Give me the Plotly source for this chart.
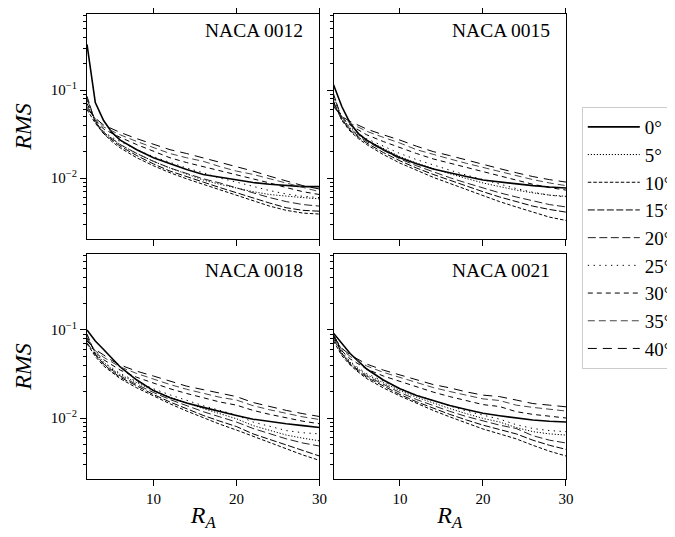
import plotly.graph_objects as go
from plotly.subplots import make_subplots

# Rayleigh-type number on x, RMS error on a log y axis
RA = [2, 3, 4, 5, 6, 8, 10, 12, 14, 16, 18, 20, 22, 24, 26, 28, 30]
ANGLES = [0, 5, 10, 15, 20, 25, 30, 35, 40]
PROFILES = ["NACA 0012", "NACA 0015", "NACA 0018", "NACA 0021"]

naca0012 = {
    0: [0.33, 0.072, 0.045, 0.033, 0.027, 0.021, 0.017, 0.0145, 0.0125, 0.011, 0.0102, 0.0095, 0.0089, 0.0085, 0.0082, 0.0080, 0.0080],
    5: [0.070, 0.044, 0.033, 0.028, 0.024, 0.019, 0.0155, 0.013, 0.011, 0.0095, 0.0085, 0.0077, 0.0070, 0.0065, 0.0062, 0.0060, 0.0058],
    10: [0.060, 0.042, 0.032, 0.026, 0.022, 0.017, 0.0138, 0.0115, 0.0098, 0.0085, 0.0074, 0.0063, 0.0055, 0.0048, 0.0043, 0.0040, 0.0039],
    15: [0.085, 0.043, 0.032, 0.027, 0.023, 0.018, 0.0145, 0.012, 0.0103, 0.009, 0.0078, 0.0068, 0.0060, 0.0052, 0.0046, 0.0043, 0.0042],
    20: [0.080, 0.044, 0.033, 0.028, 0.024, 0.019, 0.0155, 0.013, 0.0112, 0.0098, 0.0088, 0.0078, 0.0068, 0.0060, 0.0054, 0.0050, 0.0048],
    25: [0.075, 0.045, 0.034, 0.029, 0.026, 0.021, 0.0175, 0.0150, 0.0130, 0.0115, 0.0100, 0.0090, 0.0080, 0.0072, 0.0066, 0.0062, 0.0060],
    30: [0.070, 0.046, 0.036, 0.032, 0.029, 0.024, 0.020, 0.017, 0.015, 0.0135, 0.012, 0.0108, 0.0098, 0.0088, 0.0078, 0.0070, 0.0065],
    35: [0.065, 0.047, 0.038, 0.034, 0.031, 0.026, 0.022, 0.019, 0.017, 0.0155, 0.0135, 0.012, 0.011, 0.0098, 0.0088, 0.0078, 0.0070],
    40: [0.062, 0.048, 0.040, 0.036, 0.033, 0.028, 0.024, 0.021, 0.019, 0.017, 0.015, 0.0135, 0.012, 0.0105, 0.0092, 0.0082, 0.0075],
}
naca0015 = {
    0: [0.115, 0.065, 0.042, 0.032, 0.027, 0.021, 0.0170, 0.0145, 0.0127, 0.0114, 0.0104, 0.0095, 0.0090, 0.0086, 0.0082, 0.0079, 0.0077],
    5: [0.085, 0.049, 0.037, 0.031, 0.027, 0.0215, 0.0175, 0.0148, 0.0128, 0.0112, 0.0099, 0.0088, 0.0080, 0.0073, 0.0068, 0.0064, 0.0062],
    10: [0.075, 0.045, 0.034, 0.028, 0.024, 0.0185, 0.0148, 0.0122, 0.0102, 0.0087, 0.0074, 0.0063, 0.0054, 0.0047, 0.0041, 0.0036, 0.0033],
    15: [0.090, 0.047, 0.035, 0.029, 0.025, 0.0195, 0.0157, 0.0130, 0.0110, 0.0094, 0.0081, 0.0070, 0.0061, 0.0054, 0.0048, 0.0044, 0.0041],
    20: [0.070, 0.046, 0.036, 0.030, 0.026, 0.0205, 0.0165, 0.0138, 0.0117, 0.0101, 0.0088, 0.0077, 0.0068, 0.0061, 0.0055, 0.0050, 0.0047],
    25: [0.078, 0.048, 0.038, 0.032, 0.028, 0.023, 0.019, 0.0162, 0.0140, 0.0123, 0.0108, 0.0096, 0.0085, 0.0076, 0.0069, 0.0064, 0.0061],
    30: [0.072, 0.049, 0.040, 0.035, 0.031, 0.026, 0.022, 0.019, 0.0165, 0.0148, 0.0132, 0.0118, 0.0105, 0.0094, 0.0085, 0.0078, 0.0073],
    35: [0.068, 0.050, 0.042, 0.038, 0.034, 0.029, 0.025, 0.021, 0.0185, 0.0165, 0.0147, 0.0132, 0.0118, 0.0106, 0.0096, 0.0088, 0.0082],
    40: [0.065, 0.050, 0.044, 0.040, 0.036, 0.031, 0.027, 0.023, 0.020, 0.018, 0.0160, 0.0142, 0.0128, 0.0115, 0.0104, 0.0096, 0.0090],
}
naca0018 = {
    0: [0.100, 0.075, 0.060, 0.048, 0.038, 0.027, 0.0205, 0.0170, 0.0148, 0.0132, 0.0118, 0.0107, 0.0097, 0.0091, 0.0086, 0.0082, 0.0078],
    5: [0.085, 0.055, 0.043, 0.036, 0.031, 0.025, 0.0205, 0.0172, 0.0148, 0.0128, 0.0112, 0.0098, 0.0082, 0.0072, 0.0064, 0.0059, 0.0055],
    10: [0.070, 0.050, 0.039, 0.033, 0.028, 0.022, 0.0178, 0.0145, 0.0120, 0.0100, 0.0085, 0.0073, 0.0062, 0.0053, 0.0045, 0.0038, 0.0033],
    15: [0.090, 0.053, 0.041, 0.034, 0.029, 0.023, 0.0185, 0.0152, 0.0127, 0.0107, 0.0092, 0.0080, 0.0066, 0.0057, 0.0049, 0.0042, 0.0037],
    20: [0.072, 0.052, 0.041, 0.035, 0.030, 0.024, 0.0195, 0.0162, 0.0138, 0.0118, 0.0103, 0.0090, 0.0076, 0.0066, 0.0058, 0.0052, 0.0048],
    25: [0.082, 0.054, 0.043, 0.037, 0.032, 0.026, 0.0215, 0.0183, 0.0158, 0.0138, 0.0122, 0.0108, 0.0090, 0.0080, 0.0072, 0.0068, 0.0066],
    30: [0.080, 0.056, 0.046, 0.040, 0.035, 0.029, 0.0250, 0.0215, 0.0190, 0.0170, 0.0152, 0.0140, 0.0122, 0.0110, 0.0100, 0.0092, 0.0086],
    35: [0.078, 0.058, 0.049, 0.043, 0.038, 0.032, 0.0275, 0.0240, 0.0212, 0.0190, 0.0172, 0.0160, 0.0138, 0.0124, 0.0112, 0.0103, 0.0096],
    40: [0.075, 0.060, 0.052, 0.045, 0.040, 0.034, 0.030, 0.026, 0.023, 0.021, 0.019, 0.0175, 0.0150, 0.0135, 0.0122, 0.0112, 0.0104],
}
naca0021 = {
    0: [0.092, 0.070, 0.054, 0.044, 0.036, 0.027, 0.0215, 0.0180, 0.0157, 0.0139, 0.0125, 0.0113, 0.0106, 0.0100, 0.0095, 0.0092, 0.0090],
    5: [0.090, 0.055, 0.043, 0.036, 0.031, 0.025, 0.0205, 0.0172, 0.0148, 0.0128, 0.0112, 0.0099, 0.0090, 0.0078, 0.0070, 0.0066, 0.0064],
    10: [0.075, 0.051, 0.040, 0.033, 0.028, 0.022, 0.0178, 0.0146, 0.0122, 0.0103, 0.0088, 0.0075, 0.0066, 0.0058, 0.0049, 0.0042, 0.0037],
    15: [0.085, 0.054, 0.041, 0.034, 0.029, 0.023, 0.0185, 0.0153, 0.0129, 0.0110, 0.0095, 0.0083, 0.0074, 0.0066, 0.0056, 0.0049, 0.0044],
    20: [0.080, 0.053, 0.042, 0.035, 0.030, 0.024, 0.0195, 0.0162, 0.0138, 0.0119, 0.0104, 0.0092, 0.0083, 0.0076, 0.0063, 0.0056, 0.0052],
    25: [0.090, 0.056, 0.044, 0.037, 0.032, 0.026, 0.0215, 0.0182, 0.0157, 0.0137, 0.0120, 0.0107, 0.0097, 0.0084, 0.0076, 0.0072, 0.0070],
    30: [0.088, 0.058, 0.047, 0.041, 0.036, 0.030, 0.026, 0.0225, 0.0197, 0.0175, 0.0157, 0.0142, 0.0135, 0.0118, 0.0110, 0.0104, 0.0100],
    35: [0.086, 0.060, 0.050, 0.044, 0.039, 0.033, 0.029, 0.025, 0.0222, 0.0200, 0.0180, 0.0165, 0.0158, 0.0140, 0.0132, 0.0125, 0.0120],
    40: [0.085, 0.062, 0.052, 0.046, 0.041, 0.035, 0.031, 0.027, 0.024, 0.022, 0.0198, 0.0182, 0.0175, 0.0160, 0.0146, 0.0140, 0.0134],
}
panels = [naca0012, naca0015, naca0018, naca0021]

# line style per angle: (dash, width, color)
STYLES = {
    0: ("solid", 1.6, "black"),
    5: ("1.2px,1.8px", 1.0, "black"),
    10: ("3.5px,2px", 1.0, "black"),
    15: ("7px,2.5px", 1.0, "black"),
    20: ("8px,3.5px", 1.0, "#222"),
    25: ("1.3px,4.5px", 1.0, "black"),
    30: ("5px,4px", 1.0, "black"),
    35: ("7px,4px", 1.0, "#444"),
    40: ("9px,6px", 1.0, "black"),
}

FONT = "Liberation Serif"

fig = make_subplots(rows=2, cols=2, horizontal_spacing=0.0293, vertical_spacing=0.032)

for p, (name, data) in enumerate(zip(PROFILES, panels)):
    r, c = p // 2 + 1, p % 2 + 1
    for a in ANGLES:
        dash, w, col = STYLES[a]
        fig.add_trace(go.Scatter(x=RA, y=data[a], mode="lines",
                                 line=dict(color=col, width=w, dash=dash),
                                 name=f"{a}°", legendgroup=f"{a}",
                                 showlegend=(p == 0)),
                      row=r, col=c)
    fig.add_annotation(text=name, xref="x domain", yref="y domain",
                       x=1, y=1, xanchor="right", yanchor="top",
                       xshift=-14, yshift=-4, showarrow=False,
                       font=dict(family=FONT, size=19.5, color="black"),
                       row=r, col=c)

minor_vals = [m * 10 ** e for e in (-3, -2, -1) for m in range(2, 10)]

for r in (1, 2):
    for c in (1, 2):
        fig.update_xaxes(range=[2, 30], tickvals=[10, 20, 30],
                         showticklabels=(r == 2), ticks="outside", ticklen=6,
                         tickcolor="black", showline=True, linecolor="black",
                         linewidth=1, mirror=("ticks" if r == 1 else True),
                         showgrid=False, zeroline=False, automargin=False,
                         tickfont=dict(family=FONT, size=15, color="black"),
                         title=dict(text="<i>R</i><sub><i>A</i></sub>" if r == 2 else "",
                                    font=dict(family=FONT, size=24, color="black"),
                                    standoff=0),
                         row=r, col=c)
        fig.update_yaxes(type="log", range=[-2.693, -0.136],
                         tickvals=[0.01, 0.1],
                         ticktext=["10<sup>−2</sup>", "10<sup>−1</sup>"],
                         showticklabels=(c == 1), ticks="outside", ticklen=6,
                         tickcolor="black",
                         minor=dict(ticks="outside", ticklen=3, tickcolor="black",
                                    tickvals=minor_vals, showgrid=False),
                         showline=True, linecolor="black", linewidth=1, mirror=True,
                         showgrid=False, zeroline=False, automargin=False,
                         tickfont=dict(family=FONT, size=15, color="black"),
                         title=dict(text="<i>RMS</i>" if c == 1 else "",
                                    font=dict(family=FONT, size=24, color="black"),
                                    standoff=12),
                         row=r, col=c)

# page body adds 8px offset, so the figure is 8px smaller than the window
fig.update_layout(
    width=667, height=529,
    margin=dict(l=79, r=109, t=6, b=58, autoexpand=False),
    plot_bgcolor="white", paper_bgcolor="white",
    font=dict(family=FONT, color="black"),
    legend=dict(x=1.033, y=0.80, xanchor="left", yanchor="top",
                bordercolor="#cccccc", borderwidth=1, itemwidth=52,
                font=dict(family=FONT, size=19, color="black"),
                tracegroupgap=11, traceorder="normal"),
)

fig.write_html("out.html")
